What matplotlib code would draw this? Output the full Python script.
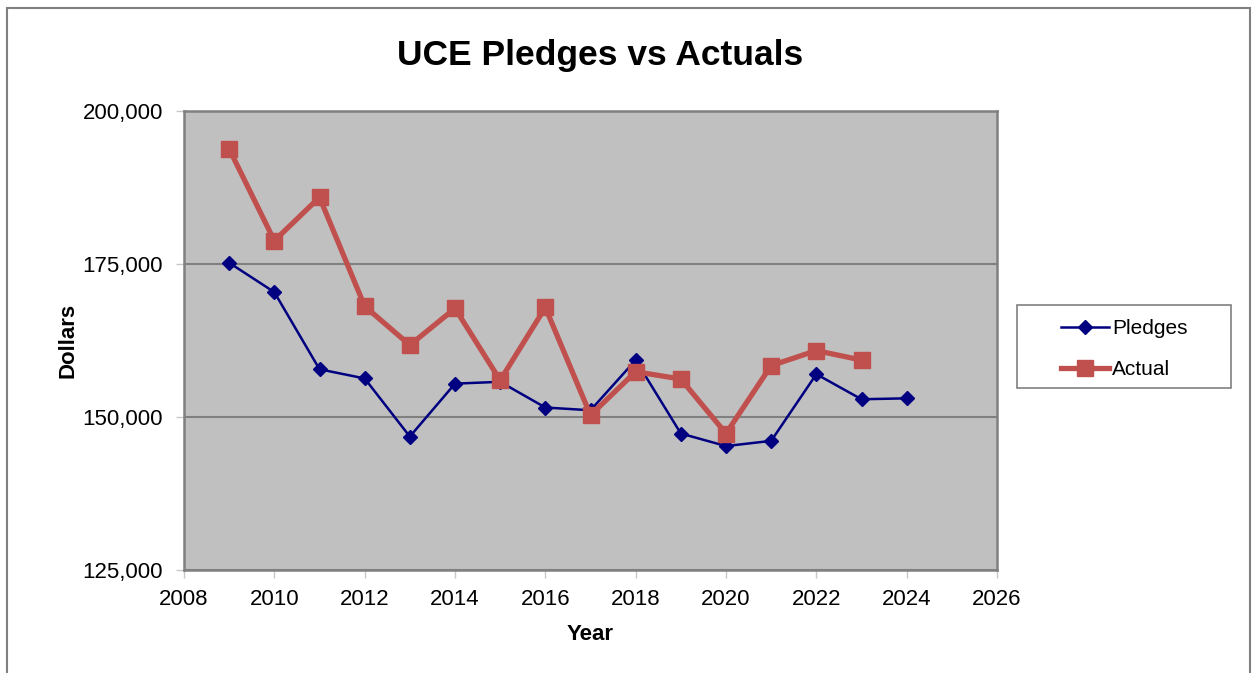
import matplotlib
matplotlib.use('Agg')
import matplotlib.pyplot as plt
from matplotlib.patches import Rectangle
from matplotlib.ticker import FuncFormatter

plt.rcParams['font.family'] = ['Liberation Sans', 'DejaVu Sans']

# Data
years_pledges = [2009, 2010, 2011, 2012, 2013, 2014, 2015, 2016, 2017, 2018,
                 2019, 2020, 2021, 2022, 2023, 2024]
pledges = [175200, 170400, 157800, 156300, 146800, 155450, 155750, 151550, 151100, 159300,
           147300, 145250, 146100, 157000, 152900, 153050]

years_actual = [2009, 2010, 2011, 2012, 2013, 2014, 2015, 2016, 2017, 2018,
                2019, 2020, 2021, 2022, 2023]
actual = [193800, 178800, 185900, 168100, 161750, 167750, 156000, 167900, 150300, 157400,
          156200, 147300, 158400, 160850, 159300]

W, H = 1256, 673
fig = plt.figure(figsize=(W / 100, H / 100), dpi=100)
ax = fig.add_axes([184 / W, 1 - 570 / H, (997 - 184) / W, (570 - 111) / H])
ax.set_facecolor('#C0C0C0')

ax.plot(years_pledges, pledges, color='#000080', lw=1.8, marker='D', markersize=7,
        label='Pledges', zorder=3)
ax.plot(years_actual, actual, color='#C0504D', lw=3.8, marker='s', markersize=11.5,
        label='Actual', zorder=4)

ax.set_xlim(2008, 2026)
ax.set_ylim(125000, 200000)
ax.set_xticks(range(2008, 2027, 2))
ax.set_yticks([125000, 150000, 175000, 200000])
ax.yaxis.set_major_formatter(FuncFormatter(lambda v, p: f'{int(v):,}'))
ax.grid(axis='y', color='#808080', lw=1.5)
ax.set_axisbelow(True)

for s in ax.spines.values():
    s.set_color('#808080')
    s.set_linewidth(1.8)
ax.tick_params(direction='out', length=6, width=1, color='#C8C8C8', labelsize=16)
ax.tick_params(axis='y', pad=9)
ax.tick_params(axis='x', pad=8)

ax.set_xlabel('Year', fontsize=16, fontweight='bold', labelpad=10)
ax.set_ylabel('Dollars', fontsize=16, fontweight='bold', labelpad=3)
fig.text(600 / W, 1 - 56 / H, 'UCE Pledges vs Actuals', fontsize=25.5, fontweight='bold',
         ha='center', va='center')

# legend entries, box drawn separately to match the wide padding
leg = fig.legend(loc='center', bbox_to_anchor=(1124 / W, 1 - 349 / H), fontsize=15,
                 frameon=False, handlelength=2.3, labelspacing=1.05, handletextpad=0.15,
                 borderaxespad=0)
fig.patches.append(Rectangle((1017 / W, 1 - 388 / H), (1231 - 1017) / W, (388 - 305) / H,
                             transform=fig.transFigure, facecolor='white',
                             edgecolor='#808080', lw=1.2, zorder=0))

fig.patches.append(Rectangle((7 / W, -0.01), (1250 - 7) / W, 1.01 - 8 / H,
                             transform=fig.transFigure, fill=False,
                             edgecolor='#808080', lw=1.5))

fig.savefig('out.png', dpi=100)
